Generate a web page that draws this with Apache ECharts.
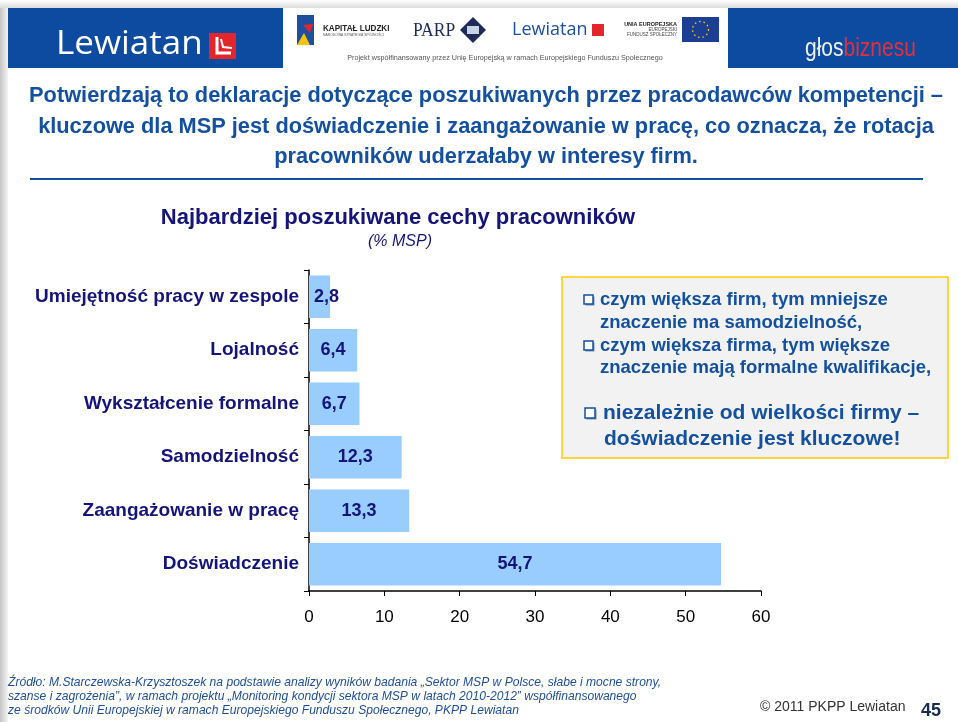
<!DOCTYPE html>
<html>
<head>
<meta charset="utf-8">
<script src="https://cdn.jsdelivr.net/npm/echarts@6/dist/echarts.min.js"></script>
<style>
  html, body { margin: 0; padding: 0; background: #fff; }
  #main { width: 958px; height: 722px; }
</style>
</head>
<body>
<div id="main"></div>
<script>
// data
const categories = ['Umiejętność pracy w zespole', 'Lojalność', 'Wykształcenie formalne', 'Samodzielność', 'Zaangażowanie w pracę', 'Doświadczenie'];
const values = [2.8, 6.4, 6.7, 12.3, 13.3, 54.7];
const xMin = 0, xMax = 60, xStep = 10;

const headline = [
  'Potwierdzają to deklaracje dotyczące poszukiwanych przez pracodawców kompetencji –',
  'kluczowe dla MSP jest doświadczenie i zaangażowanie w pracę, co oznacza, że rotacja',
  'pracowników uderzałaby w interesy firm.'
];
const notes = [
  'czym większa firm, tym mniejsze',
  'znaczenie ma samodzielność,',
  'czym większa firma, tym większe',
  'znaczenie mają formalne kwalifikacje,'
];
const noteBig = ['niezależnie od wielkości firmy –', 'doświadczenie jest kluczowe!'];
const source = [
  'Źródło: M.Starczewska-Krzysztoszek na podstawie analizy wyników badania „Sektor MSP w Polsce, słabe i mocne strony,',
  'szanse i zagrożenia”, w ramach projektu „Monitoring kondycji sektora MSP w latach 2010-2012” współfinansowanego',
  'ze środków Unii Europejskiej w ramach Europejskiego Funduszu Społecznego, PKPP Lewiatan'
];

const navy = '#14147a';
const blue = '#1450a0';
const band = '#0d4ba1';
const arial = 'Arial, "Liberation Sans", sans-serif';

const chart = echarts.init(document.getElementById('main'));

function txt(x, y, text, font, fill, align, sx) {
  return { type: 'text', x: x, y: y, scaleX: sx || 1,
    style: { text: text, font: font, fill: fill, align: align || 'left', verticalAlign: 'middle' } };
}

const g = [];
// left page edge shade
g.push({ type: 'rect', shape: { x: 0, y: 0, width: 8, height: 722 },
  style: { fill: new echarts.graphic.LinearGradient(0, 0, 1, 0, [{ offset: 0, color: '#c4c4c4' }, { offset: 1, color: '#f4f4f4' }]) } });
g.push({ type: 'rect', shape: { x: 0, y: 0, width: 958, height: 8 },
  style: { fill: new echarts.graphic.LinearGradient(0, 0, 0, 1, [{ offset: 0, color: '#ffffff' }, { offset: 1, color: '#dcdcdc' }]) } });
// header band
g.push({ type: 'rect', shape: { x: 8, y: 8, width: 950, height: 60 }, style: { fill: band } });
g.push({ type: 'rect', shape: { x: 283, y: 8, width: 445, height: 60 }, style: { fill: '#ffffff' } });
// Lewiatan logo
g.push(txt(56, 45, 'Lewiatan', '33px "Open Sans", Lato, sans-serif', '#ffffff', 'left', 1.06));
g.push({ type: 'rect', shape: { x: 209, y: 33, width: 27, height: 26 }, style: { fill: '#e2262b' } });
g.push({ type: 'polyline', shape: { points: [[217, 37], [217, 53], [231, 53]] }, style: { stroke: '#fff', lineWidth: 3, fill: null } });
g.push({ type: 'polyline', shape: { points: [[221, 39], [223, 47], [232, 48]] }, style: { stroke: '#fff', lineWidth: 2, fill: null } });
// glos biznesu
g.push({ type: 'text', x: 805, y: 49, scaleX: 0.84, style: { text: '{a|głos}{b|biznesu}', verticalAlign: 'middle',
  rich: { a: { font: '25px ' + arial, fill: '#eeeeee' }, b: { font: '25px ' + arial, fill: '#e2303a' } } } });
// sponsor logos in white box
g.push({ type: 'rect', shape: { x: 297, y: 15, width: 17, height: 30 }, style: { fill: '#1d4f9e' } });
g.push({ type: 'polygon', shape: { points: [[297, 45], [304, 33], [310, 45]] }, style: { fill: '#f5c400' } });
g.push({ type: 'polygon', shape: { points: [[303, 25], [313, 24], [310, 33]] }, style: { fill: '#e2262b' } });
g.push(txt(323, 29, 'KAPITAŁ LUDZKI', 'bold 9px ' + arial, '#222', 'left', 0.9));
g.push(txt(323, 35, 'NARODOWA STRATEGIA SPÓJNOŚCI', '4px ' + arial, '#555', 'left', 0.85));
g.push(txt(413, 31, 'PARP', '19px "Liberation Serif", serif', '#1d2a5a', 'left', 0.92));
g.push({ type: 'polygon', shape: { points: [[473, 17], [486, 30], [473, 43], [460, 30]] }, style: { fill: '#1d2a5a' } });
g.push({ type: 'rect', shape: { x: 467, y: 26, width: 12, height: 8 }, style: { fill: '#c9d3e6' } });
g.push(txt(512, 30, 'Lewiatan', '18px "Open Sans", Lato, sans-serif', '#1d4f9e'));
g.push({ type: 'rect', shape: { x: 592, y: 24, width: 12, height: 12 }, style: { fill: '#e2262b' } });
g.push(txt(677, 24, 'UNIA EUROPEJSKA', 'bold 5.5px ' + arial, '#222', 'right'));
g.push(txt(677, 30, 'EUROPEJSKI', '4.5px ' + arial, '#444', 'right'));
g.push(txt(677, 35, 'FUNDUSZ SPOŁECZNY', '4.5px ' + arial, '#444', 'right'));
g.push({ type: 'rect', shape: { x: 682, y: 17, width: 37, height: 25 }, style: { fill: '#1c3f94' } });
g.push({ type: 'circle', shape: { cx: 700.5, cy: 29.5, r: 8 }, style: { fill: null, stroke: '#f5d400', lineWidth: 1.3, lineDash: [1.5, 3] } });
g.push(txt(505, 58, 'Projekt współfinansowany przez Unię Europejską w ramach Europejskiego Funduszu Społecznego', '8px ' + arial, '#555', 'center', 0.9));

// headline
headline.forEach(function (line, i) {
  g.push(txt(486, 96 + i * 30.5, line, 'bold 22px ' + arial, blue, 'center', 0.99));
});
g.push({ type: 'line', shape: { x1: 30, y1: 179, x2: 923, y2: 179 }, style: { stroke: blue, lineWidth: 2 } });

// chart title
g.push(txt(398, 218, 'Najbardziej poszukiwane cechy pracowników', 'bold 22px ' + arial, navy, 'center'));
g.push(txt(400, 242, '(% MSP)', 'italic 16px ' + arial, navy, 'center'));

// notes box
g.push({ type: 'rect', shape: { x: 562, y: 277, width: 386, height: 181 }, style: { fill: '#f2f2f2', stroke: '#ffcc00', lineWidth: 1.5 } });
function bullet(x, y, s) {
  g.push({ type: 'rect', shape: { x: x + 1.5, y: y + 1.5, width: s, height: s }, style: { fill: '#7a8fb8' } });
  g.push({ type: 'rect', shape: { x: x, y: y, width: s, height: s }, style: { fill: '#fff', stroke: blue, lineWidth: 1.5 } });
}
const noteFont = 'bold 18.5px ' + arial;
const noteY = [300, 322.5, 345.5, 368];
notes.forEach(function (line, i) {
  g.push(txt(600, noteY[i], line, noteFont, blue));
});
bullet(584, 295, 9);
bullet(584, 341, 9);
bullet(585, 408, 10);
g.push(txt(603, 413, noteBig[0], 'bold 21px ' + arial, blue));
g.push(txt(604, 439, noteBig[1], 'bold 21px ' + arial, blue));

// source footer
source.forEach(function (line, i) {
  g.push(txt(8, 683 + i * 14, line, 'italic 12.1px ' + arial, '#1f4e9a'));
});
g.push(txt(760, 707, '© 2011 PKPP Lewiatan', '14px ' + arial, '#333'));
g.push(txt(921, 711, '45', 'bold 18px ' + arial, '#1a2a50'));

const option = {
  backgroundColor: '#ffffff',
  animation: false,
  textStyle: { fontFamily: arial },
  grid: { left: 309, top: 270, width: 452, height: 321, containLabel: false },
  xAxis: {
    type: 'value', min: xMin, max: xMax, interval: xStep,
    axisLine: { show: true, lineStyle: { color: '#000', width: 1.5 } },
    axisTick: { show: true, length: 5, lineStyle: { color: '#000' } },
    axisLabel: { color: '#000', fontSize: 17, margin: 18 },
    splitLine: { show: false }
  },
  yAxis: {
    type: 'category', data: categories, inverse: true,
    axisLine: { show: true, lineStyle: { color: '#000', width: 1.5 } },
    axisTick: { show: true, length: 5, lineStyle: { color: '#000' } },
    axisLabel: { color: navy, fontSize: 19, fontWeight: 'bold', margin: 10 }
  },
  series: [{
    type: 'bar',
    barCategoryGap: '21%',
    data: values.map(function (v) {
      return { value: v, label: { position: v < 5 ? 'insideLeft' : 'inside', distance: 5 } };
    }),
    itemStyle: { color: '#99ccff' },
    label: {
      show: true, color: navy, fontSize: 18, fontWeight: 'bold',
      formatter: function (p) { return String(p.value).replace('.', ','); }
    }
  }],
  graphic: g
};
chart.setOption(option);
</script>
</body>
</html>
